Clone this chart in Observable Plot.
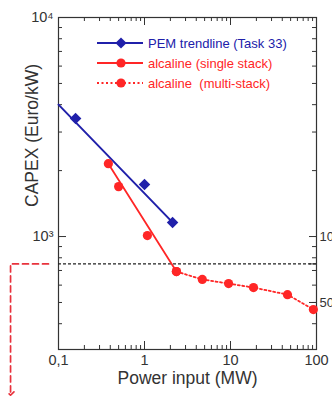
<!DOCTYPE html>
<html><head><meta charset="utf-8">
<script src="https://cdn.jsdelivr.net/npm/d3@7"></script>
<script src="https://cdn.jsdelivr.net/npm/@observablehq/plot@0.6"></script>
<style>
body{margin:0;background:#fff;font-family:"Liberation Sans",Arial,sans-serif;}
#wrap{position:relative;width:332px;height:396px;overflow:hidden;background:#fff;}
#legend{position:absolute;left:0;top:0;pointer-events:none;}
</style></head><body><div id="wrap"></div>
<script>
// ---- data ----
const pemX = [0.158, 1.0, 2.12];
const pemY = [3460, 1730, 1160];
const pemTrendX = [0.1, 2.12];
const pemTrendY = [4000, 1160];
const singleX = [0.38, 0.5, 1.08, 2.35];
const singleY = [2150, 1690, 1010, 692];
const singleTrendX = [0.38, 2.35];
const singleTrendY = [2150, 692];
const multiX = [2.35, 4.7, 9.5, 18.5, 46, 92];
const multiY = [692, 637, 610, 585, 543, 464];
const thresholdY = [750];
const xTickValues = [0.1, 1, 10, 100];
const xTickLabels = ["0,1", "1", "10", "100"];
const yTickValues = [1000, 10000];
const yTickLabels = ["10\u00B3", "10\u2074"];
const rightTickValues = [1000, 750, 500];
const rightTickLabels = ["1000", "750", "500"];
const legendLabels = ["PEM trendline (Task 33)", "alcaline (single stack)", "alcaline  (multi-stack)"];
const arrowX = [0.0765, 0.0277, 0.0277];
const arrowY = [750, 750, 192];
const xDomain = [0.1, 100];
const yDomain = [305, 10000];
const axisTitles = ["Power input (MW)", "CAPEX (Euro/kW)"];

// ---- style ----
const BLUE = "#2020aa", RED = "#ff2626", ARROW = "#e8323c", INK = "#333";
const W = 332, H = 396, mL = 58, mR = 16, mT = 17, mB = 47;
const innerW = W - mL - mR, innerH = H - mT - mB;

const minorX = [];
for (const d of [0.1, 1, 10]) for (let k = 2; k <= 9; k++) minorX.push(+(k * d).toPrecision(3));
const majorX = [1, 10];
const minorY = [];
for (const d of [100, 1000]) for (let k = 2; k <= 9; k++) { const v = k * d; if (v > yDomain[0]) minorY.push(v); }
const majorY = [1000];

const idx = a => d3.range(a.length);

const plot = Plot.plot({
  width: W, height: H,
  marginLeft: mL, marginRight: mR, marginTop: mT, marginBottom: mB,
  style: {fontFamily: '"Liberation Sans", Arial, sans-serif', fontSize: "14px", color: INK, background: "transparent", overflow: "visible"},
  x: {type: "log", domain: xDomain},
  y: {type: "log", domain: yDomain},
  marks: [
    // ticks (inward)
    Plot.tickX(minorX, {x: d => d, insetTop: innerH - 4, stroke: INK}),
    Plot.tickX(minorX, {x: d => d, insetBottom: innerH - 4, stroke: INK}),
    Plot.tickX(majorX, {x: d => d, insetTop: innerH - 8, stroke: INK}),
    Plot.tickX(majorX, {x: d => d, insetBottom: innerH - 8, stroke: INK}),
    Plot.tickY(minorY, {y: d => d, insetRight: innerW - 4, stroke: INK}),
    Plot.tickY(minorY, {y: d => d, insetLeft: innerW - 4, stroke: INK}),
    Plot.tickY(majorY, {y: d => d, insetRight: innerW - 8, stroke: INK}),
    Plot.tickY(rightTickValues, {y: d => d, insetLeft: innerW - 7, stroke: INK}),
    Plot.frame({stroke: INK, strokeWidth: 1.2}),
    // tick labels
    Plot.axisX(xTickValues, {anchor: "bottom", tickSize: 0, tickPadding: 5, label: null,
      tickFormat: d => xTickLabels[xTickValues.indexOf(d)], fontSize: 14.5, fill: INK}),
    Plot.axisY(yTickValues, {anchor: "left", tickSize: 0, tickPadding: 5, label: null,
      tickFormat: d => yTickLabels[yTickValues.indexOf(d)], fontSize: 14.5, fill: INK}),
    Plot.axisY(rightTickValues, {anchor: "right", tickSize: 0, tickPadding: 3, label: null,
      tickFormat: d => rightTickLabels[rightTickValues.indexOf(d)], fontSize: 13, fill: INK}),
    // axis titles
    Plot.text([axisTitles[0]], {frameAnchor: "bottom", dy: 34, fontSize: 17.5, fill: INK, text: d => d}),
    Plot.text([axisTitles[1]], {frameAnchor: "top-left", textAnchor: "middle", dx: -33, dy: 118, rotate: -90, fontSize: 17.5, fill: INK, text: d => d}),
    // threshold line
    Plot.ruleY(thresholdY, {y: d => d, stroke: "#222", strokeWidth: 1.2, strokeDasharray: "3,2"}),
    // annotation arrow
    Plot.line(idx(arrowX), {x: i => arrowX[i], y: i => arrowY[i], stroke: ARROW, strokeWidth: 1.7,
      strokeDasharray: "6,4", markerEnd: "arrow"}),
    // series
    Plot.line(idx(pemTrendX), {x: i => pemTrendX[i], y: i => pemTrendY[i], stroke: BLUE, strokeWidth: 2}),
    Plot.line(idx(singleTrendX), {x: i => singleTrendX[i], y: i => singleTrendY[i], stroke: RED, strokeWidth: 1.8}),
    Plot.line(idx(multiX), {x: i => multiX[i], y: i => multiY[i], stroke: RED, strokeWidth: 1.8, strokeDasharray: "2,2.5"}),
    Plot.dot(idx(pemX), {x: i => pemX[i], y: i => pemY[i], symbol: "diamond2", r: 5.2, fill: BLUE, stroke: "none"}),
    Plot.dot(idx(singleX), {x: i => singleX[i], y: i => singleY[i], r: 4.6, fill: RED, stroke: "none"}),
    Plot.dot(idx(multiX), {x: i => multiX[i], y: i => multiY[i], r: 4.6, fill: RED, stroke: "none"})
  ]
});
document.getElementById("wrap").appendChild(plot);

// legend overlay (inside the frame, top-left)
const ns = "http://www.w3.org/2000/svg";
const lg = d3.select("#wrap").append("svg").attr("id", "legend").attr("width", W).attr("height", 100)
  .attr("xmlns", ns);
const legendStyles = [
  {color: BLUE, dash: null, shape: "diamond"},
  {color: RED, dash: null, shape: "circle"},
  {color: RED, dash: "2,2.5", shape: "circle"}
];
legendLabels.forEach((label, i) => {
  const y = 43 + i * 20;
  const st = legendStyles[i];
  lg.append("line").attr("x1", 97).attr("x2", 143).attr("y1", y).attr("y2", y)
    .attr("stroke", st.color).attr("stroke-width", i === 0 ? 2 : 1.8)
    .attr("stroke-dasharray", st.dash);
  if (st.shape === "diamond") {
    lg.append("path").attr("d", d3.symbol(d3.symbolDiamond2, 80)()).attr("transform", `translate(121,${y})`).attr("fill", st.color);
  } else {
    lg.append("circle").attr("cx", 121).attr("cy", y).attr("r", 4.6).attr("fill", st.color);
  }
  lg.append("text").attr("x", 148).attr("y", y).attr("dy", "0.35em")
    .attr("font-size", 13).attr("font-family", '"Liberation Sans", Arial, sans-serif')
    .attr("fill", st.color).attr("xml:space", "preserve").style("white-space", "pre").text(label);
});
</script></body></html>
